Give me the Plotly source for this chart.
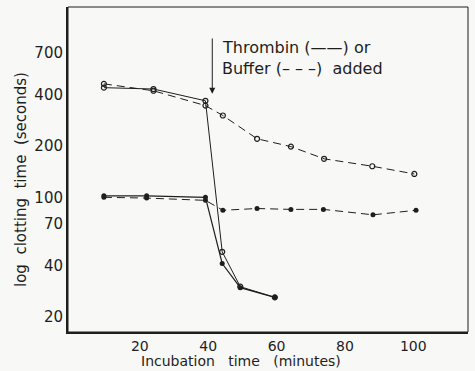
import numpy as np
import plotly.graph_objects as go

# Thrombin added (solid), open circles
thr_open_x = [9.5, 24, 39.2, 44.1, 49.4, 59.5]
thr_open_y = [438, 430, 367, 48, 30, 26]
# Buffer added (dashed), open circles
buf_open_x = [9.5, 24, 39.2, 44.3, 54.3, 64.2, 73.9, 88, 100.3]
buf_open_y = [461, 420, 344, 301, 220, 198, 168, 152, 137]
# Thrombin added (solid), filled circles
thr_fill_x = [9.5, 22, 39.2, 44.1, 49.4, 59.5]
thr_fill_y = [102, 102, 100, 41, 29.6, 26]
# Buffer added (dashed), filled circles
buf_fill_x = [9.5, 22, 39.2, 44.3, 54.3, 64.2, 73.7, 88.2, 100.8]
buf_fill_y = [100, 99, 96, 84, 86, 85, 85, 79, 84]

x_ticks = [20, 40, 60, 80, 100]
y_ticks = [20, 40, 70, 100, 200, 400, 700]

ink = "#1e1e1e"
bg = "#f8f8f6"
font = "DejaVu Sans"

fig = go.Figure()
fig.add_trace(go.Scatter(x=buf_open_x, y=buf_open_y, mode="lines+markers",
                         line=dict(color=ink, width=1, dash="8px,5px"),
                         marker=dict(symbol="circle-open", size=5, color=ink, line=dict(width=1.2))))
fig.add_trace(go.Scatter(x=thr_open_x, y=thr_open_y, mode="lines+markers",
                         line=dict(color=ink, width=1),
                         marker=dict(symbol="circle-open", size=5, color=ink, line=dict(width=1.2))))
fig.add_trace(go.Scatter(x=buf_fill_x, y=buf_fill_y, mode="lines+markers",
                         line=dict(color=ink, width=1, dash="8px,5px"),
                         marker=dict(symbol="circle", size=5, color=ink)))
fig.add_trace(go.Scatter(x=thr_fill_x, y=thr_fill_y, mode="lines+markers",
                         line=dict(color=ink, width=1.2),
                         marker=dict(symbol="circle", size=5, color=ink)))

# arrow marking addition time
fig.add_annotation(x=41.2, y=np.log10(403), ax=41.2, ay=np.log10(867),
                   xref="x", yref="y", axref="x", ayref="y", text="",
                   showarrow=True, arrowhead=2, arrowsize=1.2, arrowwidth=1, arrowcolor=ink)
fig.add_annotation(x=43.5, y=np.log10(748), xref="x", yref="y", xanchor="left", yanchor="middle",
                   text="Thrombin (\u2014\u2014) or", showarrow=False,
                   font=dict(family=font, size=16, color=ink))
fig.add_annotation(x=43.5, y=np.log10(565), xref="x", yref="y", xanchor="left", yanchor="middle",
                   text="Buffer (\u2013 \u2013 \u2013)\u00a0\u00a0added", showarrow=False,
                   font=dict(family=font, size=16, color=ink))

# axis titles
fig.add_annotation(x=(241 - 68) / 400, y=-(361 - 332) / 325, xref="paper", yref="paper",
                   text="Incubation\u00a0\u00a0\u00a0time\u00a0\u00a0\u00a0(minutes)", showarrow=False,
                   xanchor="center", yanchor="middle",
                   font=dict(family=font, size=14, color=ink))
fig.add_annotation(x=-(68 - 21) / 400, y=(332 - 180) / 325, xref="paper", yref="paper",
                   text="log\u00a0\u00a0clotting\u00a0\u00a0time\u00a0\u00a0(seconds)", showarrow=False,
                   textangle=-90, xanchor="center", yanchor="middle",
                   font=dict(family=font, size=15, color=ink))

fig.update_layout(
    width=475, height=371,
    margin=dict(l=68, r=7, t=7, b=39),
    paper_bgcolor=bg, plot_bgcolor=bg,
    showlegend=False,
    font=dict(family=font, size=15, color=ink),
    shapes=[dict(type="rect", xref="paper", yref="paper", x0=0, y0=0, x1=1, y1=1,
                 line=dict(color=ink, width=1))],
)
fig.update_xaxes(range=[-1, 116], tickvals=x_ticks, ticktext=[str(v) for v in x_ticks],
                 showgrid=False, zeroline=False, showline=True, linecolor=ink, linewidth=2,
                 ticks="", ticklabelstandoff=0, automargin=False,
                 tickfont=dict(family=font, size=14, color=ink))
fig.update_yaxes(type="log", range=[np.log10(16.3), np.log10(1298)], tickvals=y_ticks,
                 ticktext=[str(v) for v in y_ticks],
                 showgrid=False, zeroline=False, showline=True, linecolor=ink, linewidth=2,
                 ticks="", ticklabelstandoff=0, automargin=False,
                 tickfont=dict(family=font, size=15, color=ink))

fig.write_html("out.html", config={"displayModeBar": False},
               post_script="document.body.style.margin='0px';document.body.style.background='%s';" % bg)
